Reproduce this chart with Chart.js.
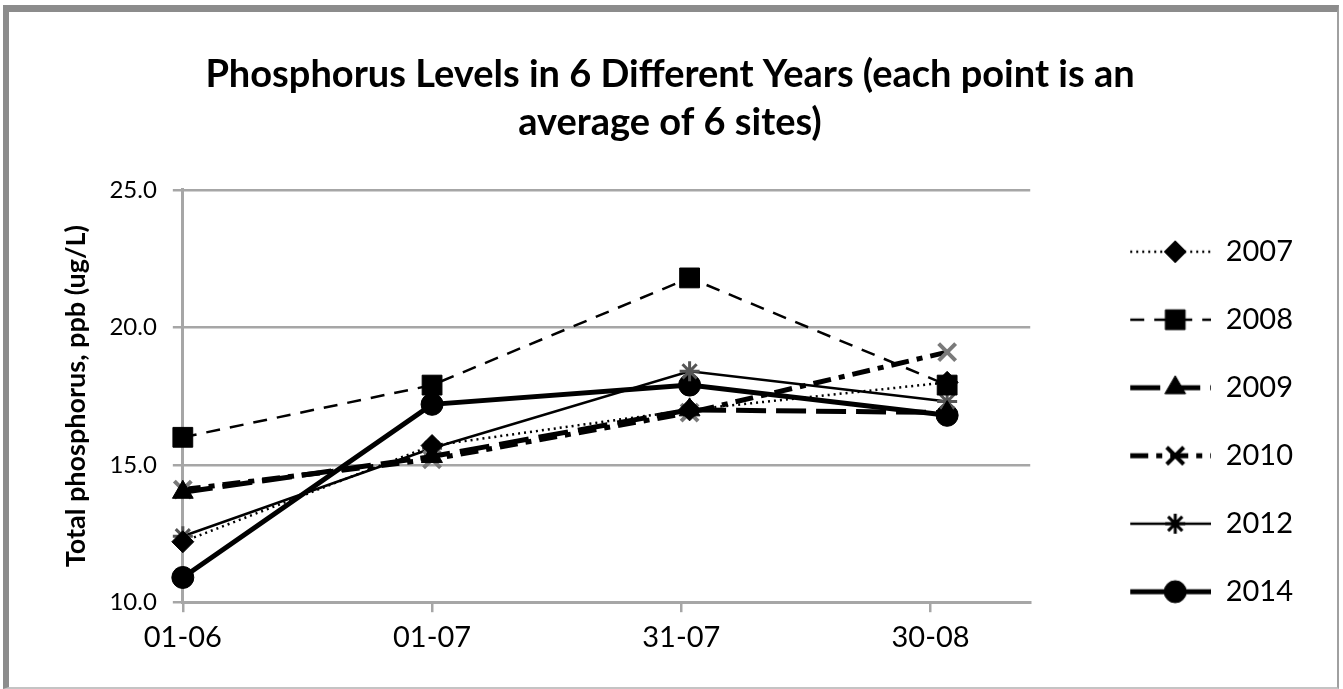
<!DOCTYPE html>
<html><head><meta charset="utf-8">
<script src="https://cdn.jsdelivr.net/npm/chart.js@4"></script>
<style>
html,body{margin:0;padding:0;background:#fff;}
#wrap{position:relative;width:1343px;height:689px;overflow:hidden;}
#frame{position:absolute;left:3px;top:5px;right:4px;bottom:0;border-left:6px solid #8c8c8c;border-top:7px solid #8c8c8c;border-right:2px solid #a0a0a0;border-bottom:2px solid #c4c4c4;pointer-events:none;}
canvas{position:absolute;left:0;top:0;}
</style></head>
<body><div id="wrap"><canvas id="c" width="1343" height="689"></canvas><div id="frame"></div></div>
<script>
// ---- data ----
const tickLabels = ['01-06', '01-07', '31-07', '30-08'];
const tickDays = [0, 30, 60, 90];          // day offsets of the axis labels (from 1 June)
const sampleDays = [0, 30, 61, 92];        // day offsets of the sampling dates
const years = ['2007', '2008', '2009', '2010', '2012', '2014'];
const p2007 = [12.2, 15.7, 17.0, 18.0];
const p2008 = [16.0, 17.9, 21.8, 17.9];
const p2009 = [14.0, 15.3, 17.0, 16.9];
const p2010 = [14.1, 15.2, 16.9, 19.1];
const p2012 = [12.4, 15.6, 18.4, 17.3];
const p2014 = [10.9, 17.2, 17.9, 16.8];
const seriesValues = [p2007, p2008, p2009, p2010, p2012, p2014];

// ---- styles ----
const styles = [
  {lw: 2.5, dash: [2, 4],  ps: 'rectRot',  pr: 11, pbw: 1, pc: '#000'},
  {lw: 2.5, dash: [14, 10], ps: 'rect',    pr: 14, pbw: 1, pc: '#000'},
  {lw: 5,   dash: [30, 10], ps: 'triangle', pr: 12, pbw: 1, pc: '#000'},
  {lw: 5,   dash: [18, 8, 6, 8], ps: 'crossRot', pr: 12, pbw: 4, pc: '#7a7a7a'},
  {lw: 2.5, dash: [],       ps: 'star',     pr: 10, pbw: 3, pc: '#555'},
  {lw: 5,   dash: [],       ps: 'circle',   pr: 11, pbw: 1, pc: '#000'}
];

function sprite(st) {
  const c = document.createElement('canvas');
  c.width = 142; c.height = 40;
  const g = c.getContext('2d');
  g.strokeStyle = '#000'; g.lineWidth = st.lw; g.setLineDash(st.dash);
  g.beginPath(); g.moveTo(61, 20); g.lineTo(142, 20); g.stroke();
  g.setLineDash([]);
  g.fillStyle = '#000'; g.strokeStyle = '#000'; g.lineWidth = st.pbw;
  Chart.helpers.drawPoint(g, {pointStyle: st.ps, radius: st.pr, rotation: 0, borderWidth: st.pbw}, 106, 20);
  return c;
}
const sprites = styles.map(sprite);

const datasets = years.map((y, i) => ({
  label: y,
  data: sampleDays.map((d, k) => ({x: d, y: seriesValues[i][k]})),
  borderColor: '#000',
  borderWidth: styles[i].lw,
  borderDash: styles[i].dash,
  pointStyle: styles[i].ps,
  pointRadius: styles[i].pr,
  pointBorderWidth: styles[i].pbw,
  pointBackgroundColor: styles[i].pc,
  pointBorderColor: styles[i].pc,
  fill: false,
  tension: 0,
  clip: false
}));

new Chart(document.getElementById('c'), {
  type: 'line',
  data: {datasets},
  options: {
    responsive: false,
    animation: false,
    devicePixelRatio: 1,
    layout: {padding: {left: 37, right: 40, top: 0, bottom: 26}},
    plugins: {
      tooltip: {enabled: false},
      title: {
        display: true,
        text: ['Phosphorus Levels in 6 Different Years (each point is an', 'average of 6 sites)'],
        color: '#000',
        font: {family: 'Lato', size: 38, weight: 'bold', lineHeight: 1.263},
        padding: {top: 51, bottom: 43}
      },
      legend: {
        position: 'right',
        align: 'start',
        title: {display: true, text: ' ', padding: {top: 188, bottom: 9}, font: {size: 1}},
        labels: {
          usePointStyle: true,
          pointStyleWidth: 142,
          padding: 39,
          color: '#000',
          font: {family: 'Lato', size: 29},
          generateLabels: (chart) => chart.data.datasets.map((ds, i) => ({
            text: ds.label, pointStyle: sprites[i], datasetIndex: i,
            fillStyle: '#000', strokeStyle: '#000', lineWidth: 0, hidden: false, fontColor: '#000'
          }))
        }
      }
    },
    scales: {
      x: {
        type: 'linear', min: 0, max: 102,
        afterBuildTicks: (s) => { s.ticks = tickDays.map(v => ({value: v})); },
        ticks: {callback: (v, i) => tickLabels[i], color: '#000', font: {family: 'Lato', size: 29}, padding: 8, maxRotation: 0, autoSkip: false},
        grid: {drawOnChartArea: false, drawTicks: true, tickLength: 10, color: '#a6a6a6', lineWidth: 2.5},
        border: {color: '#a6a6a6', width: 3}
      },
      y: {
        min: 10, max: 25,
        ticks: {stepSize: 5, callback: v => Number(v).toFixed(1), color: '#000', font: {family: 'Lato', size: 24}, padding: 16},
        grid: {color: '#a6a6a6', lineWidth: 2.5, tickLength: 10},
        border: {color: '#a6a6a6', width: 3},
        title: {display: true, text: 'Total phosphorus, ppb (ug/L)', color: '#000', font: {family: 'Lato', size: 27, weight: 'bold'}, padding: {top: 23, bottom: 1}}
      }
    }
  }
});
</script>
</body></html>
